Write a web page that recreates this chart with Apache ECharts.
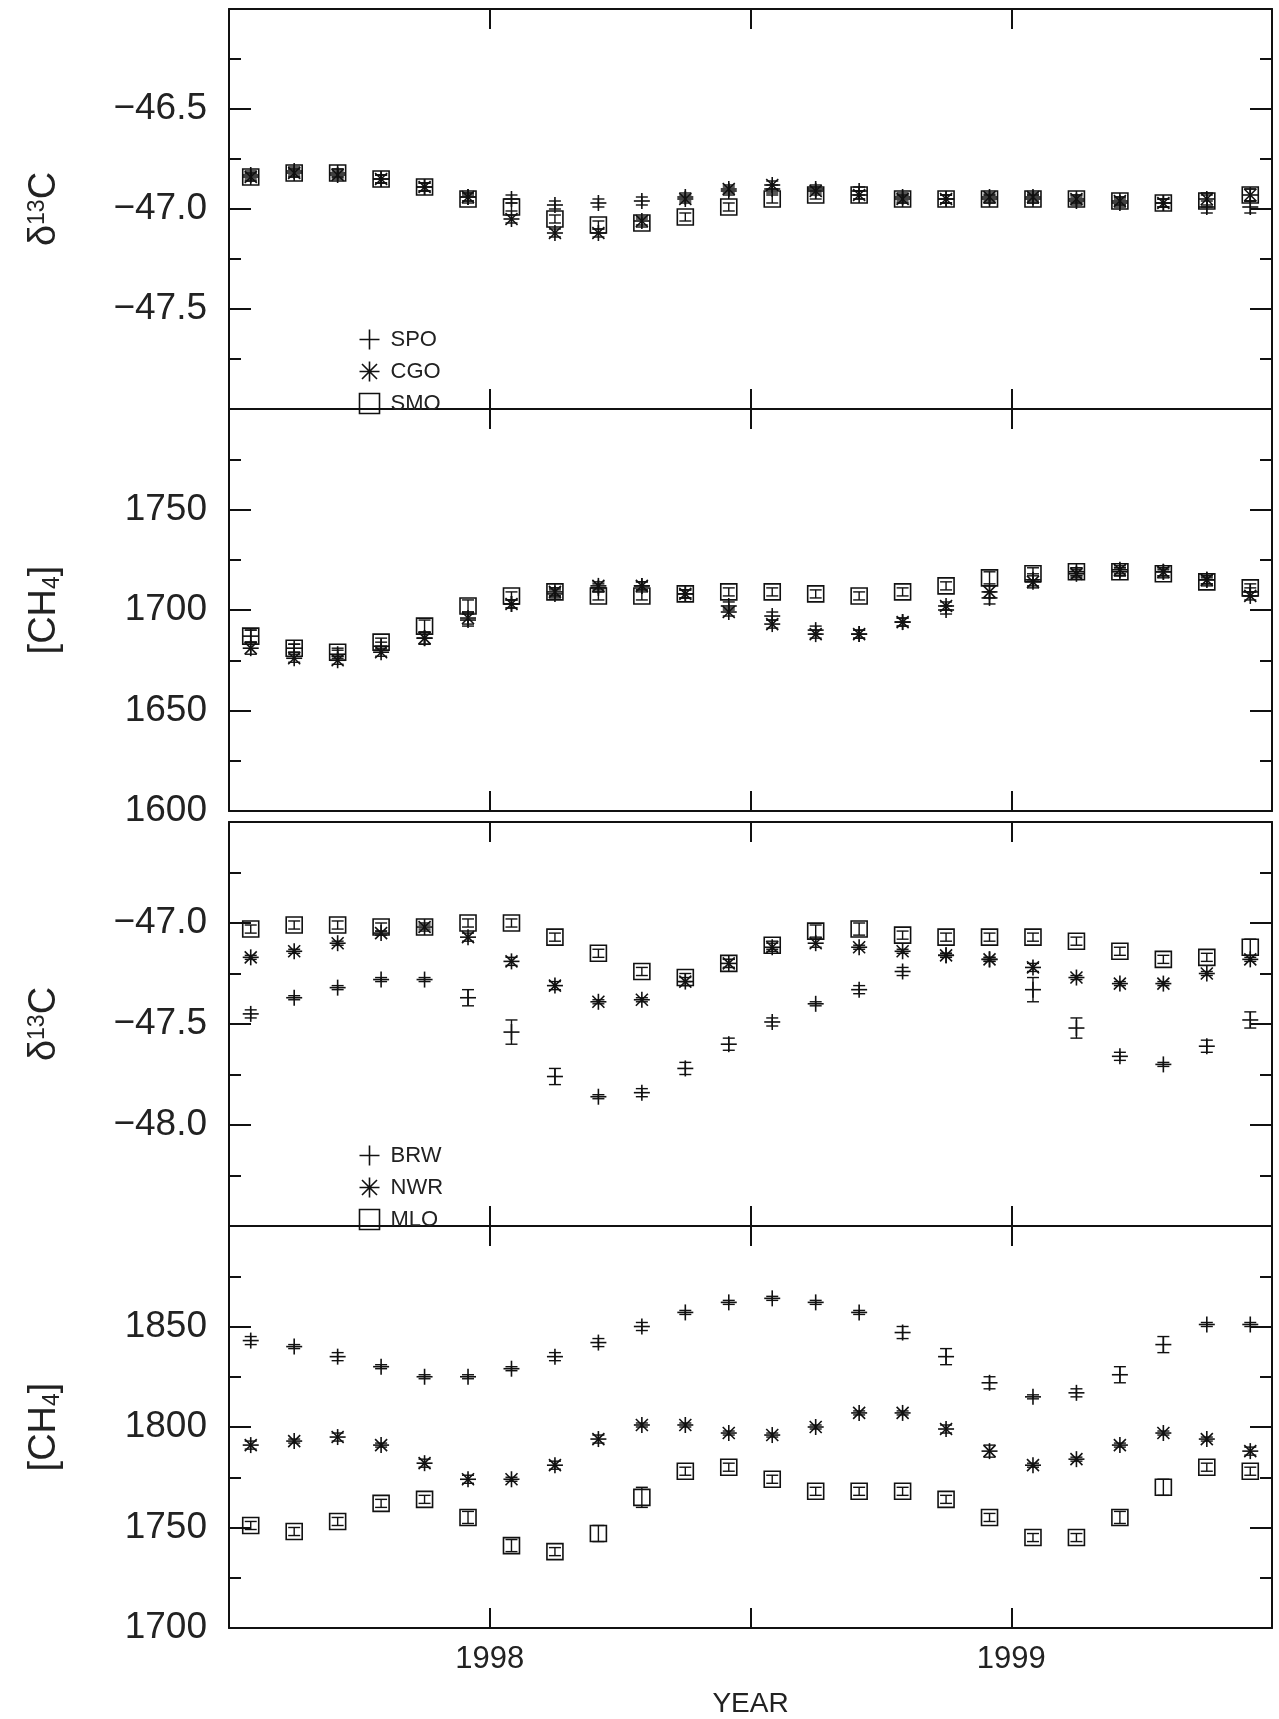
<!DOCTYPE html>
<html>
<head>
<meta charset="utf-8">
<script src="https://cdn.jsdelivr.net/npm/echarts@6/dist/echarts.min.js"></script>
<style>
  html, body { margin: 0; padding: 0; background: #fff; }
  #chart { width: 1279px; height: 1719px; }
</style>
</head>
<body>
<div id="chart"></div>
<script>
// monthly time points, mid-month Jul 1997 .. Jun 1999
var months = [];
for (var m = 0; m < 24; m++) months.push(1997.5 + (m + 0.5) / 12);

// panel 1: delta13C southern stations
var spoD13 = [-46.83,-46.81,-46.82,-46.85,-46.89,-46.94,-46.95,-46.98,-46.97,-46.96,-46.94,-46.91,-46.90,-46.90,-46.91,-46.94,-46.95,-46.95,-46.95,-46.96,-46.97,-46.97,-46.99,-46.99];
var cgoD13 = [-46.84,-46.82,-46.83,-46.85,-46.89,-46.94,-47.05,-47.12,-47.12,-47.06,-46.95,-46.90,-46.88,-46.91,-46.93,-46.95,-46.95,-46.94,-46.94,-46.95,-46.96,-46.97,-46.95,-46.93];
var smoD13 = [-46.84,-46.82,-46.82,-46.85,-46.89,-46.95,-46.99,-47.05,-47.08,-47.07,-47.04,-46.99,-46.95,-46.93,-46.93,-46.95,-46.95,-46.95,-46.95,-46.95,-46.96,-46.97,-46.96,-46.93];
// panel 2: CH4 southern stations
var spoCH4 = [1687,1681,1678,1682,1686,1695,1703,1708,1711,1712,1708,1702,1697,1690,1688,1694,1700,1706,1715,1719,1719,1719,1715,1709];
var cgoCH4 = [1681,1676,1675,1679,1686,1696,1703,1709,1712,1712,1708,1699,1693,1688,1688,1694,1702,1709,1714,1718,1720,1719,1715,1707];
var smoCH4 = [1687,1681,1679,1684,1692,1702,1707,1709,1707,1707,1708,1709,1709,1708,1707,1709,1712,1716,1718,1719,1719,1718,1714,1711];
// panel 3: delta13C northern stations
var brwD13 = [-47.45,-47.37,-47.32,-47.28,-47.28,-47.37,-47.54,-47.76,-47.86,-47.84,-47.72,-47.60,-47.49,-47.40,-47.33,-47.24,-47.16,-47.18,-47.33,-47.52,-47.66,-47.70,-47.61,-47.48];
var nwrD13 = [-47.17,-47.14,-47.10,-47.05,-47.02,-47.07,-47.19,-47.31,-47.39,-47.38,-47.29,-47.20,-47.12,-47.10,-47.12,-47.14,-47.16,-47.18,-47.22,-47.27,-47.30,-47.30,-47.25,-47.18];
var mloD13 = [-47.03,-47.01,-47.01,-47.02,-47.02,-47.00,-47.00,-47.07,-47.15,-47.24,-47.27,-47.20,-47.11,-47.04,-47.03,-47.06,-47.07,-47.07,-47.07,-47.09,-47.14,-47.18,-47.17,-47.12];
// panel 4: CH4 northern stations
var brwCH4 = [1843,1840,1835,1830,1825,1825,1829,1835,1842,1850,1857,1862,1864,1862,1857,1847,1835,1822,1815,1817,1826,1841,1851,1851];
var nwrCH4 = [1791,1793,1795,1791,1782,1774,1774,1781,1794,1801,1801,1797,1796,1800,1807,1807,1799,1788,1781,1784,1791,1797,1794,1788];
var mloCH4 = [1751,1748,1753,1762,1764,1755,1741,1738,1747,1765,1778,1780,1774,1768,1768,1768,1764,1755,1745,1745,1755,1770,1780,1778];

// one-sigma error bars
var errD13s = [0.02,0.02,0.02,0.02,0.02,0.02,0.02,0.02,0.02,0.02,0.02,0.02,0.02,0.02,0.02,0.02,0.02,0.02,0.02,0.02,0.02,0.02,0.03,0.03];
var errCH4s = [3,2,2,2,3,3,2,2,2,2,2,2,2,2,2,2,2,3,3,2,2,2,2,2];
var brwD13err = [0.02,0.01,0.01,0.01,0.01,0.04,0.06,0.04,0.01,0.02,0.03,0.03,0.02,0.01,0.02,0.02,0.01,0.01,0.06,0.05,0.02,0.01,0.03,0.04];
var nwrD13err = [0.01,0.01,0.01,0.01,0.01,0.02,0.02,0.02,0.01,0.01,0.02,0.02,0.02,0.02,0.01,0.01,0.01,0.01,0.02,0.01,0.01,0.01,0.01,0.01];
var mloD13err = [0.02,0.02,0.02,0.02,0.02,0.02,0.02,0.02,0.02,0.02,0.02,0.02,0.02,0.03,0.03,0.02,0.02,0.02,0.02,0.02,0.02,0.02,0.02,0.04];
var brwCH4err = [2,1,2,1,1,1,1,2,2,2,1,1,1,1,1,3,4,3,1,2,4,4,1,1];
var nwrCH4err = [2,1,2,1,2,2,1,2,2,1,1,1,1,1,1,1,2,3,1,1,1,1,1,2];
var mloCH4err = [2,2,2,2,2,3,3,2,4,5,2,2,2,2,2,2,2,2,2,2,3,4,2,2];

var xTicks = ['1998', '1999'];
var panelLabels = [
  [-46.5, -47.0, -47.5],
  [1750, 1700, 1650, 1600],
  [-47.0, -47.5, -48.0],
  [1850, 1800, 1750, 1700]
];
var panelRange = [[-48, -46, 0.5], [1600, 1800, 50], [-48.5, -46.5, 0.5], [1700, 1900, 50]];

var FONT = 'Liberation Sans';
var grids = [
  { left: 229, right: 7, top: 9, height: 400 },
  { left: 229, right: 7, top: 409, height: 402 },
  { left: 229, right: 7, top: 822, height: 404 },
  { left: 229, right: 7, top: 1226, height: 402 }
];

var PLUS = 'path://M0,8L16,8M8,0L8,16';
var STAR = 'path://M0,8L16,8M8,0L8,16M2,2L14,14M2,14L14,2';
var BOX = 'path://M0,0L16,0L16,16L0,16Z';

function shapeFor(kind, p) {
  var s = 8, st = { stroke: '#111', lineWidth: 1.6, fill: null };
  if (kind === 'box') {
    return { type: 'rect', shape: { x: p[0] - s, y: p[1] - s, width: 2 * s, height: 2 * s }, style: st };
  }
  var segs = [[-s, 0, s, 0], [0, -s, 0, s]];
  if (kind === 'star') segs.push([-6, -6, 6, 6], [-6, 6, 6, -6]);
  return segs.map(function (g) {
    return { type: 'line', shape: { x1: p[0] + g[0], y1: p[1] + g[1], x2: p[0] + g[2], y2: p[1] + g[3] }, style: st };
  });
}

function station(name, panel, vals, errs, kind) {
  var data = vals.map(function (v, i) { return [months[i], v, errs[i]]; });
  return {
    name: name, type: 'custom', xAxisIndex: panel * 2, yAxisIndex: panel * 2,
    data: data, clip: false,
    renderItem: function (params, api) {
      var x = api.value(0), y = api.value(1), e = api.value(2);
      var p = api.coord([x, y]);
      var lo = api.coord([x, y - e]), hi = api.coord([x, y + e]);
      var st = { stroke: '#111', lineWidth: 1.4 };
      var kids = [
        { type: 'line', shape: { x1: p[0], y1: lo[1], x2: p[0], y2: hi[1] }, style: st },
        { type: 'line', shape: { x1: p[0] - 6, y1: lo[1], x2: p[0] + 6, y2: lo[1] }, style: st },
        { type: 'line', shape: { x1: p[0] - 6, y1: hi[1], x2: p[0] + 6, y2: hi[1] }, style: st }
      ];
      kids = kids.concat(shapeFor(kind, p));
      return { type: 'group', children: kids };
    }
  };
}

var xAxes = [], yAxes = [];
grids.forEach(function (g, i) {
  var last = i === 3;
  var base = {
    type: 'value', gridIndex: i, min: 1997.5, max: 1999.5, interval: 0.5,
    axisLine: { lineStyle: { color: '#111', width: 2 } },
    axisTick: { inside: true, length: 20, lineStyle: { color: '#111', width: 2 } },
    splitLine: { show: false }
  };
  xAxes.push(Object.assign({}, base, {
    position: 'bottom',
    name: last ? 'YEAR' : '', nameLocation: 'middle', nameGap: 62,
    nameTextStyle: { fontFamily: FONT, fontSize: 28, color: '#222' },
    axisLabel: {
      show: last, margin: 16, fontFamily: FONT, fontSize: 31, color: '#222',
      formatter: function (v) {
        var s = String(Math.round(v));
        return (Math.abs(v - Math.round(v)) < 1e-6 && xTicks.indexOf(s) >= 0) ? s : '';
      }
    }
  }));
  xAxes.push(Object.assign({}, base, { position: 'top', axisLabel: { show: false } }));

  var r = panelRange[i], labs = panelLabels[i], isD = i % 2 === 0;
  var ybase = {
    type: 'value', gridIndex: i, min: r[0], max: r[1], interval: r[2],
    axisLine: { show: true, lineStyle: { color: '#111', width: 2 } },
    axisTick: { show: true, inside: true, length: 22, lineStyle: { color: '#111', width: 2 } },
    minorTick: { show: true, splitNumber: 2, length: 12, lineStyle: { color: '#111', width: 2 } },
    splitLine: { show: false },
    minorSplitLine: { show: false }
  };
  yAxes.push(Object.assign({}, ybase, {
    position: 'left',
    name: isD ? '{a|δ}{s|13}{a|C}' : '{a|[CH}{b|4}{a|]}',
    nameLocation: 'middle', nameGap: 165, nameRotate: 90,
    nameTextStyle: {
      rich: {
        a: { fontFamily: FONT, fontSize: 38, color: '#222' },
        s: { fontFamily: FONT, fontSize: 23, color: '#222', verticalAlign: 'top', padding: [0, 0, 14, 0] },
        b: { fontFamily: FONT, fontSize: 23, color: '#222', verticalAlign: 'bottom', padding: [14, 0, 0, 0] }
      }
    },
    axisLabel: {
      margin: 22, fontFamily: FONT, fontSize: 37, color: '#222',
      formatter: function (v) {
        var hit = labs.some(function (l) { return Math.abs(l - v) < 1e-6; });
        if (!hit) return '';
        return isD ? (v < 0 ? '\u2212' + Math.abs(v).toFixed(1) : v.toFixed(1)) : String(Math.round(v));
      }
    }
  }));
  yAxes.push(Object.assign({}, ybase, { position: 'right', axisLabel: { show: false } }));
});

var legendStyle = {
  orient: 'vertical', left: 352, itemWidth: 20, itemHeight: 20, itemGap: 7,
  selectedMode: false,
  itemStyle: { color: 'none', borderColor: '#111', borderWidth: 1.6 },
  textStyle: { fontFamily: FONT, fontSize: 22, color: '#222', padding: [0, 0, 0, 6] }
};

var chart = echarts.init(document.getElementById('chart'), null, { renderer: 'canvas' });
chart.setOption({
  backgroundColor: '#fff',
  animation: false,
  grid: grids,
  xAxis: xAxes,
  yAxis: yAxes,
  legend: [
    Object.assign({ top: 322, data: [{ name: 'SPO', icon: PLUS }, { name: 'CGO', icon: STAR }, { name: 'SMO', icon: BOX }] }, legendStyle),
    Object.assign({ top: 1138, data: [{ name: 'BRW', icon: PLUS }, { name: 'NWR', icon: STAR }, { name: 'MLO', icon: BOX }] }, legendStyle)
  ],
  series: [
    station('SPO', 0, spoD13, errD13s, 'plus'),
    station('CGO', 0, cgoD13, errD13s, 'star'),
    station('SMO', 0, smoD13, errD13s, 'box'),
    station('SPO ', 1, spoCH4, errCH4s, 'plus'),
    station('CGO ', 1, cgoCH4, errCH4s, 'star'),
    station('SMO ', 1, smoCH4, errCH4s, 'box'),
    station('BRW', 2, brwD13, brwD13err, 'plus'),
    station('NWR', 2, nwrD13, nwrD13err, 'star'),
    station('MLO', 2, mloD13, mloD13err, 'box'),
    station('BRW ', 3, brwCH4, brwCH4err, 'plus'),
    station('NWR ', 3, nwrCH4, nwrCH4err, 'star'),
    station('MLO ', 3, mloCH4, mloCH4err, 'box')
  ]
});
</script>
</body>
</html>
